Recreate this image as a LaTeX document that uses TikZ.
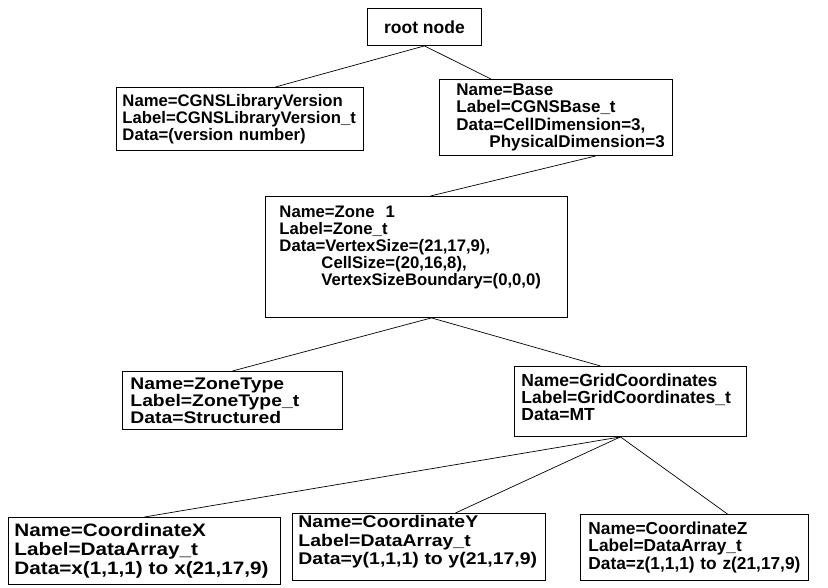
\documentclass[tikz,border=0pt]{standalone}
\usepackage{fontspec}
\setmainfont{Liberation Sans}
\newfontfamily\widefont{Liberation Sans}[FakeStretch=1.15]
\newcommand{\fs}[2]{\fontsize{#1}{#2}\selectfont}

\begin{document}
\begin{tikzpicture}[x=1pt, y=-1pt,
    box/.style={draw, line width=0.9pt, anchor=north west, align=left,
      inner ysep=0pt, font=\bfseries\fs{16.7}{17}},
    link/.style={line width=0.7pt}]
  \useasboundingbox (0,0) rectangle (828,588);

  % Nodes
  \node[box, align=center, inner xsep=0pt, minimum width=114pt, minimum height=37pt, font=\bfseries\fs{17.5}{18}] (root) at (367,8) {root node};
  \node[box, inner xsep=6pt, text width=235pt, minimum height=63pt] (libver) at (116,87)
    {Name=CGNSLibraryVersion\\Label=CGNSLibraryVersion\_t\\\mbox{Data=(version number)}};
  \node[box, inner xsep=17pt, text width=199pt, minimum height=76pt, font=\bfseries\fs{17}{17.3}] (base) at (439,79)
    {Name=Base\\Label=CGNSBase\_t\\Data=CellDimension=3,\\\mbox{\hspace*{33pt}PhysicalDimension=3}};
  \node[box, inner xsep=14pt, text width=274pt, minimum height=121pt] (zone) at (265,196)
    {Name=Zone~~1\\Label=Zone\_t\\Data=VertexSize=(21,17,9),\\\hspace*{42pt}CellSize=(20,16,8),\\\hspace*{42pt}VertexSizeBoundary=(0,0,0)\rule[-21.5pt]{0pt}{21.5pt}};
  \node[box, inner xsep=8pt, text width=204pt, minimum height=58pt, font=\widefont\bfseries\fs{16.8}{17}] (ztype) at (122,371)
    {Name=ZoneType\\Label=ZoneType\_t\\Data=Structured};
  \node[box, inner xsep=7pt, text width=218pt, minimum height=70pt, font=\bfseries\fs{17.5}{17}] (grid) at (514,366)
    {Name=GridCoordinates\\Label=GridCoordinates\_t\\Data=MT\rule[-8pt]{0pt}{8pt}};
  \node[box, inner xsep=6pt, text width=260pt, minimum height=67pt, font=\widefont\bfseries\fs{18}{19}] (coordx) at (8,517)
    {Name=CoordinateX\\Label=DataArray\_t\\\mbox{Data=x(1,1,1) to x(21,17,9)}};
  \node[box, inner xsep=6pt, text width=241pt, minimum height=67pt, font=\widefont\bfseries\fs{16.9}{18.5}] (coordy) at (292,513)
    {Name=CoordinateY\\Label=DataArray\_t\\\mbox{Data=y(1,1,1) to y(21,17,9)}\rule[-14pt]{0pt}{14pt}};
  \node[box, inner xsep=8pt, text width=212pt, minimum height=66pt, font=\bfseries\fs{17.3}{17.5}] (coordz) at (580,514)
    {Name=CoordinateZ\\Label=DataArray\_t\\\mbox{Data=z(1,1,1) to z(21,17,9)}};

  % Links
  \draw[link] (root.south) -- ([xshift=35.5pt]libver.north);
  \draw[link] (root.south) -- ([xshift=-65pt]base.north);
  \draw[link] ([xshift=40pt]base.south) -- ([xshift=14pt]zone.north);
  \draw[link] ([xshift=15pt]zone.south) -- (ztype.north);
  \draw[link] ([xshift=15pt]zone.south) -- ([xshift=-30pt]grid.north);
  \draw[link] ([xshift=-10pt]grid.south) -- (coordx.north);
  \draw[link] ([xshift=-10pt]grid.south) -- ([xshift=36.5pt]coordy.north);
  \draw[link] ([xshift=-10pt]grid.south) -- ([xshift=33pt]coordz.north);
\end{tikzpicture}
\end{document}
